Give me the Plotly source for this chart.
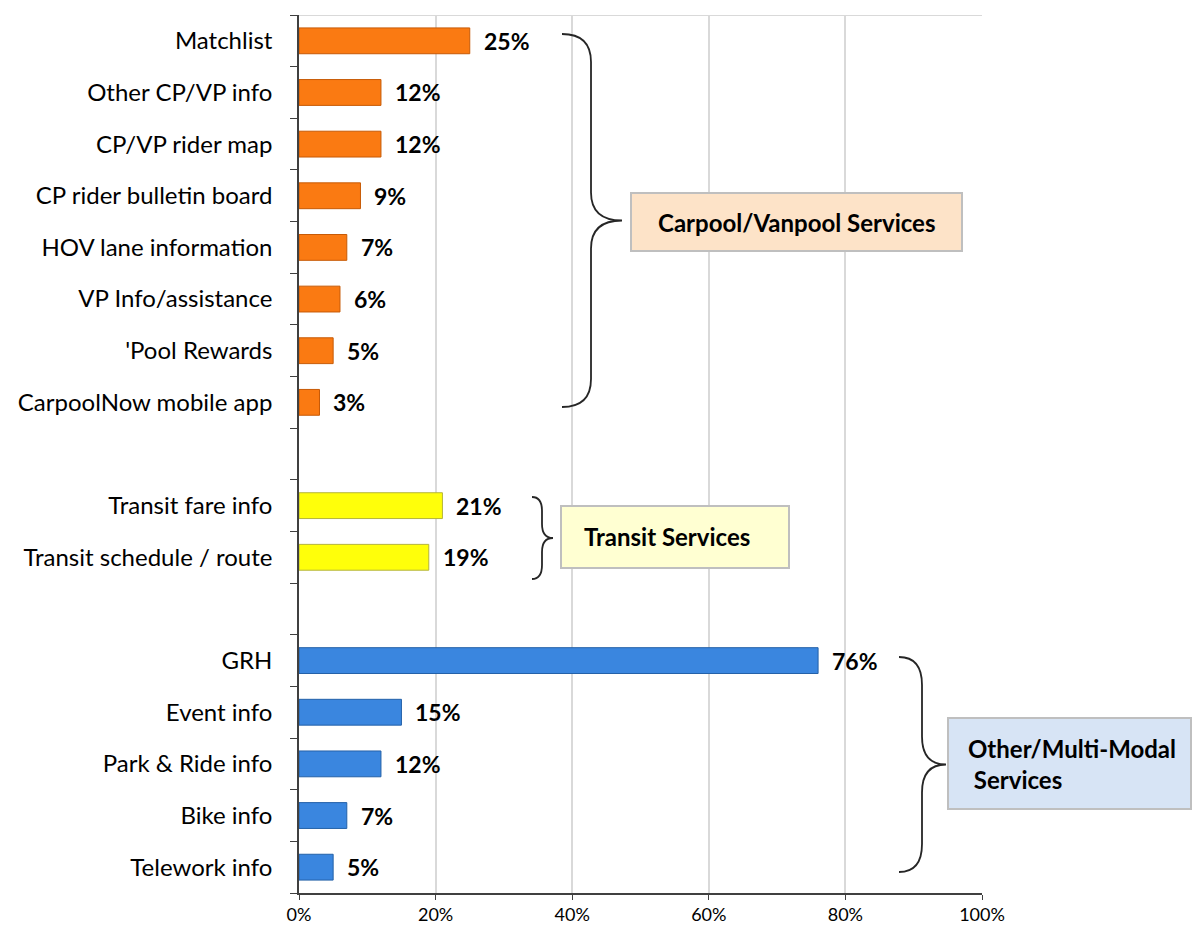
import plotly.graph_objects as go

# ---- data (top to bottom) ----
carpool_labels = ["Matchlist", "Other CP/VP info", "CP/VP rider map", "CP rider bulletin board",
                  "HOV lane information", "VP Info/assistance", "'Pool Rewards", "CarpoolNow mobile app"]
carpool_values = [25, 12, 12, 9, 7, 6, 5, 3]
transit_labels = ["Transit fare info", "Transit schedule / route"]
transit_values = [21, 19]
other_labels = ["GRH", "Event info", "Park & Ride info", "Bike info", "Telework info"]
other_values = [76, 15, 12, 7, 5]
x_ticks = [0, 20, 40, 60, 80, 100]

FONT = "Lato"

# page is offset by the 8px body margin; plot area in page pixels
OFF = 8
L, R, T, B = 299, 982, 15, 893
W, H = 1201 - 2 * OFF, 932 - 2 * OFF
N_SLOTS = len(carpool_labels) + 1 + len(transit_labels) + 1 + len(other_labels)


def px(x):
    """page pixel -> paper x"""
    return (x - L) / (R - L)


def py(y):
    """page pixel -> paper y"""
    return (B - y) / (B - T)


groups = [
    (carpool_labels, carpool_values, "#FA7A12", "#C75A06"),
    (transit_labels, transit_values, "#FFFF0A", "#B5B53A"),
    (other_labels, other_values, "#3A86DF", "#2461A8"),
]

fig = go.Figure()
pos = 0
tickvals, ticktext = [], []
for labels, values, color, edge in groups:
    ys = list(range(pos, pos + len(labels)))
    fig.add_trace(go.Bar(
        x=values, y=ys, orientation="h", width=0.5,
        marker=dict(color=color, line=dict(color=edge, width=1)),
        showlegend=False, hoverinfo="x+y",
    ))
    for y, v in zip(ys, values):
        fig.add_annotation(
            x=v, y=y, text=f"<b>{v}%</b>", showarrow=False,
            xanchor="left", yanchor="middle", xshift=12,
            font=dict(family=FONT, size=23, color="black"),
        )
    tickvals += ys
    ticktext += labels
    pos += len(labels) + 1


def brace(x_end, x_mid, x_tip, y_top, y_bot, r=26):
    y_c = (y_top + y_bot) / 2
    pts = [
        ("M", [(x_end, y_top)]),
        ("Q", [(x_mid, y_top), (x_mid, y_top + r)]),
        ("L", [(x_mid, y_c - r)]),
        ("Q", [(x_mid, y_c), (x_tip, y_c)]),
        ("Q", [(x_mid, y_c), (x_mid, y_c + r)]),
        ("L", [(x_mid, y_bot - r)]),
        ("Q", [(x_mid, y_bot), (x_end, y_bot)]),
    ]
    path = ""
    for cmd, ps in pts:
        path += cmd + " " + " ".join(f"{px(a):.5f},{py(b):.5f}" for a, b in ps) + " "
    fig.add_shape(type="path", path=path.strip(), xref="paper", yref="paper",
                  line=dict(color="#262626", width=1.8))


def box(x0, y0, x1, y1, fill):
    fig.add_shape(type="rect", xref="paper", yref="paper",
                  x0=px(x0), x1=px(x1), y0=py(y0), y1=py(y1),
                  fillcolor=fill, line=dict(color="#BFBFBF", width=2), layer="above")


def label(x, y, text, anchor="center"):
    fig.add_annotation(x=px(x), y=py(y), xref="paper", yref="paper", text=text,
                       xanchor=anchor, yanchor="middle", align="left", showarrow=False,
                       font=dict(family=FONT, size=24, color="black"))


brace(562, 591, 622, 34, 407, r=28)
box(631, 193, 962, 251, "#FDE3C8")
label(796, 222, "<b>Carpool/Vanpool Services</b>")

brace(532, 542, 553, 497, 579, r=14)
box(561, 506, 789, 568, "#FFFFD2")
label(582, 536, "<b>Transit Services</b>", "left")

brace(899, 922, 946, 657, 872, r=28)
box(948, 718, 1191, 809, "#D7E4F5")
label(966, 764, "<b>Other/Multi-Modal<br> Services</b>", "left")

# light top border
fig.add_shape(type="line", xref="x", yref="y", x0=0, x1=100, y0=-0.5, y1=-0.5,
              line=dict(color="#D9D9D9", width=2), layer="below")

fig.update_xaxes(
    range=[0, 100], tickvals=x_ticks, ticktext=[f"{t}%" for t in x_ticks],
    showgrid=True, gridcolor="#D9D9D9", gridwidth=2,
    showline=True, linecolor="#404040", linewidth=1.5,
    ticks="outside", ticklen=5, tickcolor="#404040", ticklabelstandoff=0,
    tickfont=dict(family=FONT, size=18, color="black"), zeroline=False,
)
fig.update_yaxes(
    range=[N_SLOTS - 0.5, -0.5], tickvals=tickvals, ticktext=ticktext,
    showgrid=False, zeroline=False,
    showline=True, linecolor="#404040", linewidth=1.5,
    ticks="", ticklabelstandoff=20,
    minor=dict(tickvals=[i - 0.5 for i in range(N_SLOTS + 1)], ticks="outside",
               ticklen=7, tickcolor="#404040", showgrid=False),
    tickfont=dict(family=FONT, size=24, color="black"),
)
fig.update_layout(
    width=W, height=H,
    margin=dict(l=L - OFF, r=W - (R - OFF), t=T - OFF, b=H - (B - OFF), autoexpand=False),
    plot_bgcolor="white", paper_bgcolor="white",
    bargap=0.5,
)

fig.write_html("out.html")
